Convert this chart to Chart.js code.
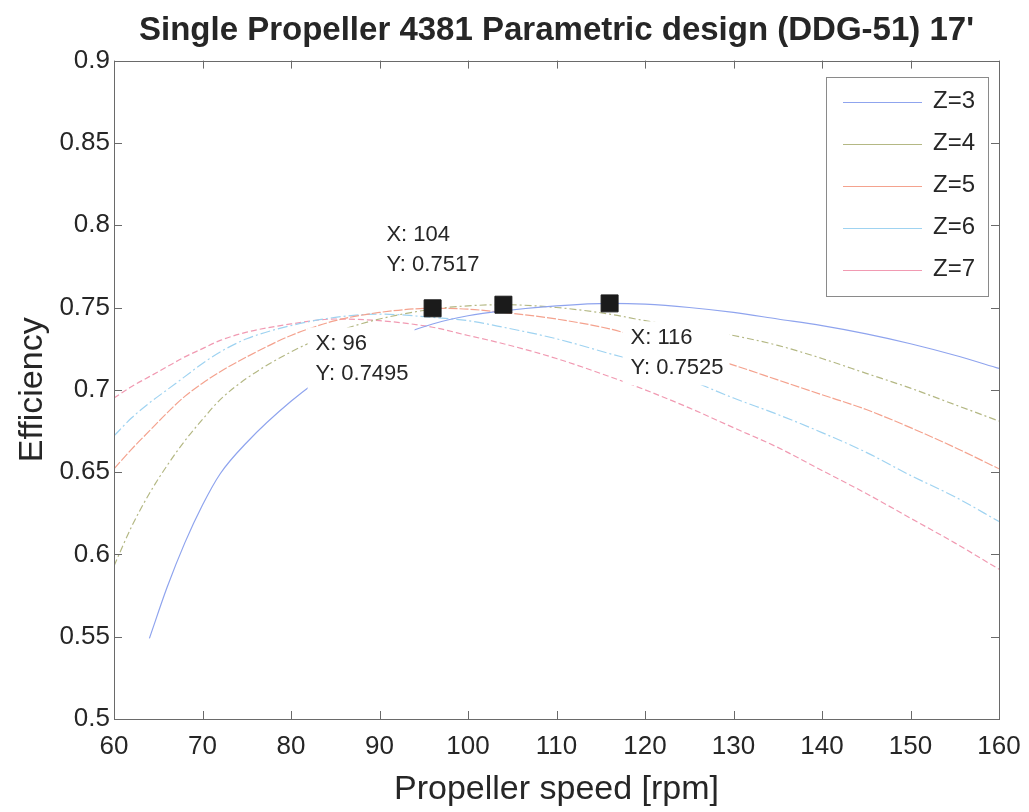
<!DOCTYPE html>
<html>
<head>
<meta charset="utf-8">
<title>Single Propeller 4381 Parametric design (DDG-51) 17'</title>
<script src="https://cdn.jsdelivr.net/npm/chart.js@4.4.0/dist/chart.umd.min.js"></script>
<style>
  html, body { margin: 0; padding: 0; background: #fff; }
  #wrap { width: 1029px; height: 812px; }
</style>
</head>
<body>
<div id="wrap"><canvas id="chart" width="1029" height="812"></canvas></div>
<script>
// propeller speed [rpm] and efficiency
const rpm   = [60, 62, 64, 66, 68, 70, 72, 75, 80, 85, 90, 96, 100, 104, 110, 116, 120, 125, 130, 135, 140, 145, 150, 155, 160];
const effZ3 = [null, null, 0.549, 0.580, 0.607, 0.630, 0.649, 0.668, 0.693, 0.713, 0.728, 0.740, 0.745, 0.748, 0.751, 0.7525, 0.752, 0.750, 0.747, 0.743, 0.739, 0.734, 0.728, 0.721, 0.713];
const effZ4 = [0.593, 0.617, 0.637, 0.654, 0.669, 0.682, 0.694, 0.707, 0.723, 0.735, 0.743, 0.749, 0.751, 0.7517, 0.750, 0.746, 0.742, 0.738, 0.733, 0.727, 0.719, 0.710, 0.701, 0.691, 0.681];
const effZ5 = [0.652, 0.664, 0.675, 0.686, 0.696, 0.704, 0.711, 0.720, 0.733, 0.742, 0.747, 0.7495, 0.749, 0.747, 0.743, 0.737, 0.731, 0.723, 0.715, 0.706, 0.697, 0.688, 0.677, 0.665, 0.652];
const effZ6 = [0.672, 0.683, 0.692, 0.700, 0.708, 0.716, 0.723, 0.731, 0.739, 0.744, 0.746, 0.744, 0.742, 0.738, 0.731, 0.722, 0.716, 0.706, 0.695, 0.685, 0.674, 0.662, 0.648, 0.635, 0.620];
const effZ7 = [0.695, 0.702, 0.708, 0.714, 0.720, 0.725, 0.730, 0.735, 0.740, 0.743, 0.742, 0.738, 0.733, 0.728, 0.719, 0.708, 0.700, 0.689, 0.677, 0.665, 0.651, 0.637, 0.622, 0.607, 0.591];

const seriesNames = ["Z=3", "Z=4", "Z=5", "Z=6", "Z=7"];

// data tip markers
const markerX = [96, 104, 116];
const markerY = [0.7495, 0.7517, 0.7525];

const xTicks = [60, 70, 80, 90, 100, 110, 120, 130, 140, 150, 160];
const yTicks = [0.5, 0.55, 0.6, 0.65, 0.7, 0.75, 0.8, 0.85, 0.9];

const FONT = "'Liberation Sans', Arial, Helvetica, sans-serif";
const TEXT = "#262626";

const colors = ["#8fa4ee", "#b4b884", "#f4a28e", "#9fd3f1", "#f19ab2"];
const dashes = [[], [7, 3, 2, 3], [9, 2], [10, 3, 2, 3], [6, 3]];
const values = [effZ3, effZ4, effZ5, effZ6, effZ7];

// where each data tip text sits relative to its marker (px)
const tipOffset = [[-117, 36], [-117, -70], [21, 35]];

const toPoints = (ys) => rpm.map((x, i) => ({ x: x, y: ys[i] }));

const datasets = values.map((ys, i) => ({
  label: seriesNames[i],
  data: toPoints(ys),
  borderColor: colors[i],
  backgroundColor: colors[i],
  borderWidth: 1.2,
  borderDash: dashes[i],
  pointRadius: 0,
  cubicInterpolationMode: "monotone",
  spanGaps: false,
  order: 2,
}));

datasets.push({
  label: "markers",
  data: markerX.map((x, i) => ({ x: x, y: markerY[i] })),
  showLine: false,
  pointStyle: "rect",
  pointRadius: 12,
  pointBackgroundColor: "#1b1b1b",
  pointBorderColor: "#1b1b1b",
  pointBorderWidth: 1,
  order: 1,
});

// MATLAB-like box with inward ticks, data tips and boxed legend
const matlabFrame = {
  id: "matlabFrame",
  afterDatasetsDraw(chart) {
    const { ctx, chartArea: a, scales } = chart;
    const x = scales.x, y = scales.y;
    ctx.save();

    // data tips (white boxes hide the curves behind them)
    ctx.font = "22px " + FONT;
    ctx.textBaseline = "middle";
    markerX.forEach((v, i) => {
      const px = x.getPixelForValue(v);
      const py = y.getPixelForValue(markerY[i]);
      const tx = px + tipOffset[i][0];
      const ty = py + tipOffset[i][1];
      const lines = ["X: " + v, "Y: " + markerY[i]];
      const w = Math.max(...lines.map((t) => ctx.measureText(t).width));
      ctx.fillStyle = "#fff";
      ctx.fillRect(tx - 8, ty - 17, w + 14, 64);
      ctx.fillStyle = TEXT;
      lines.forEach((t, j) => ctx.fillText(t, tx, ty + j * 30));
    });

    // frame
    ctx.strokeStyle = "#6a6a6a";
    ctx.lineWidth = 1;
    ctx.strokeRect(Math.round(a.left) + 0.5, Math.round(a.top) + 0.5,
      Math.round(a.right - a.left), Math.round(a.bottom - a.top));

    const tl = 8;
    ctx.beginPath();
    xTicks.forEach((v) => {
      const px = Math.round(x.getPixelForValue(v)) + 0.5;
      ctx.moveTo(px, a.bottom); ctx.lineTo(px, a.bottom - tl);
      ctx.moveTo(px, a.top); ctx.lineTo(px, a.top + tl);
    });
    yTicks.forEach((v) => {
      const py = Math.round(y.getPixelForValue(v)) + 0.5;
      ctx.moveTo(a.left, py); ctx.lineTo(a.left + tl, py);
      ctx.moveTo(a.right, py); ctx.lineTo(a.right - tl, py);
    });
    ctx.stroke();

    // legend
    const lx = a.right - 173, ly = a.top + 16, lw = 162, lh = 219;
    ctx.fillStyle = "#fff";
    ctx.fillRect(lx, ly, lw, lh);
    ctx.strokeStyle = "#8a8a8a";
    ctx.strokeRect(Math.round(lx) + 0.5, Math.round(ly) + 0.5, lw, lh);
    ctx.font = "24px " + FONT;
    ctx.textBaseline = "middle";
    seriesNames.forEach((name, i) => {
      const yy = ly + 25 + i * 42;
      ctx.strokeStyle = colors[i];
      ctx.lineWidth = 1.2;
      ctx.beginPath();
      ctx.moveTo(lx + 17, Math.round(yy) + 0.5);
      ctx.lineTo(lx + 96, Math.round(yy) + 0.5);
      ctx.stroke();
      ctx.fillStyle = TEXT;
      ctx.fillText(name, lx + 107, yy);
    });
    ctx.restore();
  },
};

new Chart(document.getElementById("chart"), {
  type: "line",
  data: { datasets: datasets },
  options: {
    responsive: false,
    animation: false,
    layout: { padding: { left: 0, right: 30, top: 0, bottom: 0 } },
    plugins: {
      legend: { display: false },
      tooltip: { enabled: false },
      title: {
        display: true,
        fullSize: false,
        text: "Single Propeller 4381 Parametric design (DDG-51) 17'",
        color: TEXT,
        font: { family: FONT, size: 33, weight: "bold" },
        padding: { top: 11, bottom: 10 },
      },
    },
    scales: {
      x: {
        type: "linear",
        min: 60,
        max: 160,
        afterBuildTicks: (s) => { s.ticks = xTicks.map((v) => ({ value: v })); },
        afterFit: (s) => { s.height = 93; s.paddingLeft = 0; s.paddingRight = 0; },
        grid: { display: false, drawTicks: false },
        border: { display: false },
        ticks: { color: TEXT, font: { family: FONT, size: 26 }, padding: 12, maxRotation: 0, callback: (v) => String(v) },
        title: {
          display: true,
          text: "Propeller speed [rpm]",
          color: TEXT,
          font: { family: FONT, size: 34 },
          padding: { top: 0, bottom: 2 },
        },
      },
      y: {
        type: "linear",
        min: 0.5,
        max: 0.9,
        afterBuildTicks: (s) => { s.ticks = yTicks.map((v) => ({ value: v })); },
        afterFit: (s) => { s.width = 114; s.paddingTop = 0; s.paddingBottom = 0; },
        grid: { display: false, drawTicks: false },
        border: { display: false },
        ticks: { color: TEXT, font: { family: FONT, size: 26 }, padding: 4, callback: (v) => String(v) },
        title: {
          display: true,
          text: "Efficiency",
          color: TEXT,
          font: { family: FONT, size: 34 },
          padding: { top: 12, bottom: 0 },
        },
      },
    },
  },
  plugins: [matlabFrame],
});
</script>
</body>
</html>
